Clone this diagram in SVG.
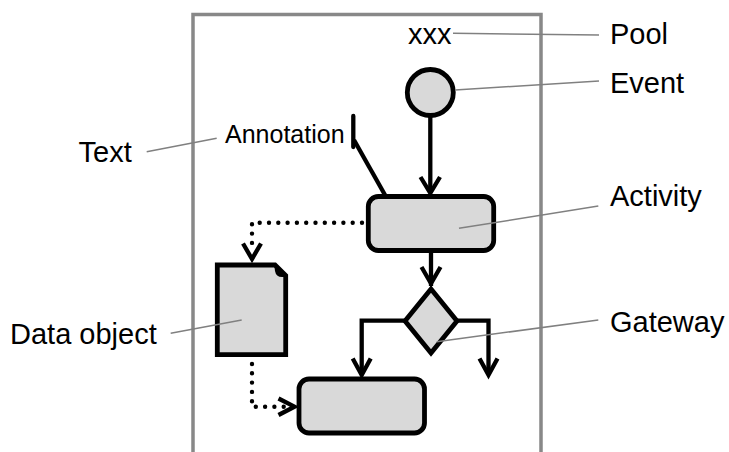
<svg xmlns="http://www.w3.org/2000/svg" width="729" height="452" viewBox="0 0 729 452">
<style>
.lbl{font-family:"Liberation Sans",Arial,sans-serif;font-size:29px;fill:#000}
.shape{fill:#d9d9d9;stroke:#000;stroke-width:4.8;stroke-linejoin:miter}
.flow{fill:none;stroke:#000;stroke-width:4.3;stroke-linejoin:miter}
.dot{fill:none;stroke:#000;stroke-width:4.4;stroke-linecap:round;stroke-dasharray:0 9.3}
.head{fill:none;stroke:#000;stroke-width:4.3;stroke-linecap:butt;stroke-linejoin:miter}
.leader{fill:none;stroke:#808080;stroke-width:1.5}
</style>
<rect width="729" height="452" fill="#fff"/>
<g id="pool">
<path d="M193,460 V14.5 H541 V460" fill="none" stroke="#888" stroke-width="3.5"/>
<text class="lbl" x="408" y="44">xxx</text>
</g>
<g id="event">
<circle class="shape" cx="430.3" cy="92.5" r="23"/>
</g>
<g id="activity1">
<rect class="shape" x="368.3" y="196.5" width="125.4" height="54" rx="10"/>
</g>
<g id="gateway">
<polygon class="shape" points="431,289 457,321 431,353 405,321"/>
</g>
<g id="activity2">
<rect class="shape" x="299" y="379" width="125.5" height="54" rx="10"/>
</g>
<g id="dataobject">
<path class="shape" d="M217.3,265 H275 L285.7,275.5 V354.7 H217.3 Z"/>
<path d="M274,263 L288,277 L282,277 Q276,277 275,271 Z" fill="#000"/>
</g>
<g id="annotation">
<text x="225" y="142.5" font-family="Liberation Sans, Arial, sans-serif" font-size="25">Annotation</text>
<line x1="353.3" y1="116" x2="353.3" y2="147" stroke="#000" stroke-width="4.3" stroke-linecap="round"/>
</g>
<g id="connectors">
<path class="flow" d="M430.3,117 V192"/>
<path class="head" d="M420.5,177 L430.3,193 L440,177"/>
<path class="flow" d="M431,251 V286"/>
<path class="head" d="M421.5,267 L431,283.5 L440.5,267"/>
<path class="flow" d="M405,320.7 H361.7 V374"/>
<path class="head" d="M352.7,358.5 L361.7,375 L370.7,358.5"/>
<path class="flow" d="M457,320.7 H488.5 V374"/>
<path class="head" d="M479.5,358.5 L488.5,375 L497.5,358.5"/>
<line x1="354" y1="140" x2="385" y2="195" stroke="#000" stroke-width="4.3"/>
<path class="dot" d="M362,222.7 H252 V250"/>
<path class="head" d="M243,243.5 L252,259 L261,243.5"/>
<path class="dot" d="M252,364 V406.7 H286"/>
<path class="head" d="M278.5,398.5 L294.5,406.7 L278.5,415"/>
</g>
<g id="labels">
<text class="lbl" x="610" y="44">Pool</text>
<text class="lbl" x="610" y="92.5">Event</text>
<text class="lbl" x="610" y="206">Activity</text>
<text class="lbl" x="610" y="331.7">Gateway</text>
<text class="lbl" x="78.5" y="161.7">Text</text>
<text class="lbl" x="10" y="344">Data object</text>
<line class="leader" x1="453" y1="33.3" x2="599" y2="35"/>
<line class="leader" x1="455" y1="90" x2="599" y2="81"/>
<line class="leader" x1="459" y1="228.3" x2="598.3" y2="206"/>
<line class="leader" x1="436.7" y1="341.7" x2="598.3" y2="320"/>
<line class="leader" x1="146.7" y1="151.7" x2="216.7" y2="138.3"/>
<line class="leader" x1="170.7" y1="333.3" x2="241.7" y2="320"/>
</g>
</svg>
